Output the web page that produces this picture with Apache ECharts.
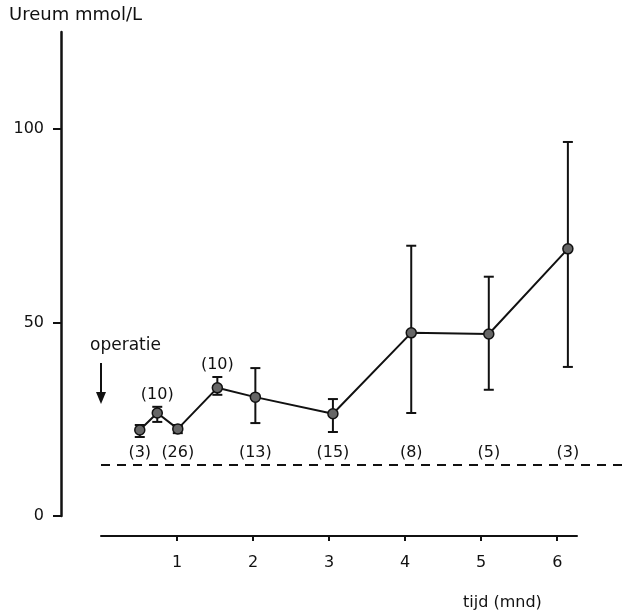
<!DOCTYPE html>
<html><head><meta charset="utf-8">
<script src="https://cdn.jsdelivr.net/npm/echarts@6/dist/echarts.min.js"></script>
<style>html,body{margin:0;padding:0;background:#fff}#c{width:627px;height:616px}</style>
</head><body><div id="c"></div>
<script>
// time after operation (months)
const months = [0.51, 0.74, 1.01, 1.53, 2.03, 3.05, 4.08, 5.1, 6.14];
// mean urea (mmol/L)
const ureum = [22.2, 26.6, 22.5, 33.1, 30.7, 26.4, 47.3, 47.0, 69.0];
// error bar bounds
const lower = [20.4, 24.3, 21.4, 31.3, 24.0, 21.7, 26.6, 32.6, 38.5];
const upper = [23.5, 28.2, 23.5, 35.9, 38.2, 30.2, 69.8, 61.8, 96.6];
// group sizes
const nLabels = ['(3)', '(10)', '(26)', '(10)', '(13)', '(15)', '(8)', '(5)', '(3)'];
const nAbove = [false, true, false, true, false, false, false, false, false];
// reference (normal) level, dashed line
const normalLimit = 13.2;
const operationMonth = 0;
const xTicks = [1, 2, 3, 4, 5, 6];
const yTicks = [0, 50, 100];

const FONT = 'DejaVu Sans';
const INK = '#111';
const labelRowLevel = 16.3;

const chart = echarts.init(document.getElementById('c'));
chart.setOption({
  animation: false,
  backgroundColor: '#fff',
  grid: { left: 101, right: 50, top: 32, bottom: 100 },
  xAxis: {
    type: 'value', min: 0, max: 6.26, offset: 20,
    splitLine: { show: false },
    axisLine: { show: true, onZero: false, lineStyle: { color: INK, width: 2 } },
    axisTick: { show: true, customValues: xTicks, length: 5, lineStyle: { color: INK, width: 2 } },
    axisLabel: { customValues: xTicks, margin: 19, fontSize: 16, color: INK, fontFamily: FONT }
  },
  yAxis: {
    type: 'value', min: 0, max: 125, offset: 40,
    splitLine: { show: false },
    axisLine: { show: true, onZero: false, lineStyle: { color: INK, width: 2.5 } },
    axisTick: { show: true, customValues: yTicks, length: 8, lineStyle: { color: INK, width: 2 } },
    axisLabel: { customValues: yTicks, margin: 17, fontSize: 16, color: INK, fontFamily: FONT }
  },
  graphic: [
    { type: 'text', left: 9, top: 6, style: { text: 'Ureum mmol/L', font: '18px "DejaVu Sans"', fill: INK } },
    { type: 'text', left: 463, top: 595, style: { text: 'tijd (mnd)', font: '16px "DejaVu Sans"', fill: INK } },
    { type: 'text', left: 90, top: 337, style: { text: 'operatie', font: '17px "DejaVu Sans"', fill: INK } }
  ],
  series: [
    {
      type: 'custom', name: 'normaal', z: 1, silent: true, clip: false,
      data: [[0, normalLimit]],
      encode: { x: 0, y: 1 },
      renderItem: function (params, api) {
        const p = api.coord([api.value(0), api.value(1)]);
        return {
          type: 'line',
          shape: { x1: p[0], y1: p[1], x2: api.getWidth(), y2: p[1] },
          style: { stroke: INK, lineWidth: 2, lineDash: [9, 7] }
        };
      }
    },
    {
      type: 'line', name: 'operatie', data: [], z: 1,
      markLine: {
        silent: true, animation: false,
        symbol: ['none', 'triangle'], symbolSize: [10, 12],
        label: { show: false },
        lineStyle: { color: INK, width: 2, type: 'solid' },
        data: [[{ coord: [operationMonth, 39.5] }, { coord: [operationMonth, 30.5] }]]
      }
    },
    {
      type: 'custom', name: 'spreiding', z: 2,
      data: months.map((m, i) => [m, lower[i], upper[i]]),
      encode: { x: 0, y: [1, 2] },
      renderItem: function (params, api) {
        const x = api.value(0);
        const lo = api.coord([x, api.value(1)]);
        const hi = api.coord([x, api.value(2)]);
        const w = 5;
        const st = { stroke: INK, lineWidth: 2 };
        return {
          type: 'group', children: [
            { type: 'line', shape: { x1: lo[0], y1: lo[1], x2: hi[0], y2: hi[1] }, style: st },
            { type: 'line', shape: { x1: lo[0] - w, y1: lo[1], x2: lo[0] + w, y2: lo[1] }, style: st },
            { type: 'line', shape: { x1: hi[0] - w, y1: hi[1], x2: hi[0] + w, y2: hi[1] }, style: st }
          ]
        };
      }
    },
    {
      type: 'line', name: 'ureum', z: 3,
      data: months.map((m, i) => [m, ureum[i]]),
      symbol: 'circle', symbolSize: 10,
      itemStyle: { color: '#666', borderColor: INK, borderWidth: 1.5 },
      lineStyle: { color: INK, width: 2 }
    },
    {
      type: 'scatter', name: 'n', z: 4, silent: true,
      symbolSize: 0, itemStyle: { color: INK, opacity: 1 },
      data: months.map((m, i) => ({
        value: [m, nAbove[i] ? upper[i] : labelRowLevel],
        label: {
          show: true, formatter: nLabels[i],
          position: nAbove[i] ? 'top' : 'inside', distance: 4,
          fontSize: 16, color: INK, fontFamily: FONT
        }
      }))
    }
  ]
});
</script></body></html>
